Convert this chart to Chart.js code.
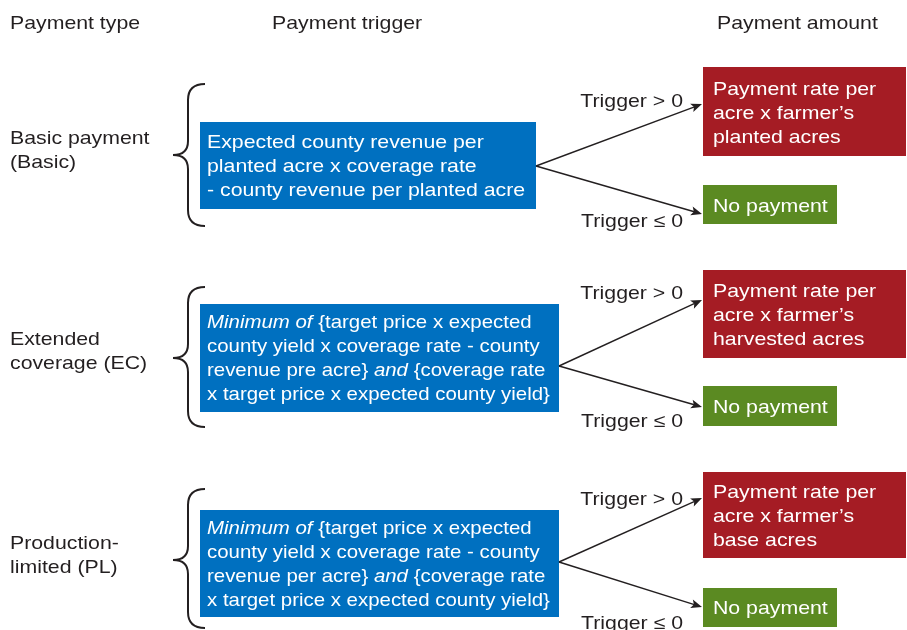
<!DOCTYPE html>
<html>
<head>
<meta charset="utf-8">
<script src="https://cdn.jsdelivr.net/npm/chart.js@4.4.1/dist/chart.umd.min.js"></script>
<style>
  html, body { margin: 0; padding: 0; background: #fff; }
  canvas { display: block; }
</style>
</head>
<body>
<canvas id="diagram" width="907" height="630"></canvas>
<script>
// --- diagram content ---
const headers = ["Payment type", "Payment trigger", "Payment amount"];
const paymentTypes = [
  ["Basic payment", "(Basic)"],
  ["Extended", "coverage (EC)"],
  ["Production-", "limited (PL)"]
];
// *...* marks italic runs
const triggerFormulas = [
  ["Expected county revenue per", "planted acre x coverage rate", "- county revenue per planted acre"],
  ["*Minimum of* {target price x expected", "county yield x coverage rate - county", "revenue pre acre} *and* {coverage rate", "x target price x expected county yield}"],
  ["*Minimum of* {target price x expected", "county yield x coverage rate - county", "revenue per acre} *and* {coverage rate", "x target price x expected county yield}"]
];
const triggerLabels = ["Trigger > 0", "Trigger \u2264 0"];
const paymentAmounts = [
  ["Payment rate per", "acre x farmer\u2019s", "planted acres"],
  ["Payment rate per", "acre x farmer\u2019s", "harvested acres"],
  ["Payment rate per", "acre x farmer\u2019s", "base acres"]
];
const noPayment = "No payment";

// --- layout (pixel units on the hidden 907x630 axes) ---
const headerX = [10, 272, 717];
const headerY = 28.5;
const typeX = 10;
const braceX = { tip: 173, spine: 188, end: 205 };
const formulaLeft = 200;
const amountX = [703, 906];
const noneX = [703, 837];
const textPad = 8;
const arrowEndX = 702;
const labelRightX = 683;
const lineGap = 24;
const rows = [
  { typeY: 144, brace: [84, 155, 226], formula: [122, 209, 148, 536], fork: 166, squeeze: 1,
    pay: [67, 156, 95], none: [185, 224, 212], up: [107, 104], down: [227, 214] },
  { typeY: 345, brace: [287, 358, 427], formula: [304, 412, 328, 559], fork: 366, squeeze: 0.96,
    pay: [270, 358, 297], none: [386, 426, 413], up: [299, 300], down: [427, 407] },
  { typeY: 549, brace: [489, 560, 628], formula: [510, 617, 534, 559], fork: 562, squeeze: 0.96,
    pay: [472, 558, 498], none: [588, 627, 614], up: [505, 498], down: [629, 607] }
];

const colors = { text: "#231f20", blue: "#0070c0", red: "#a51c24", green: "#5b8a22", white: "#ffffff" };
const fontFamily = '"Liberation Sans", Arial, sans-serif';
const fontSize = 18.5;
const stretch = 1.15;

function drawText(ctx, text, x, y, color, align, sx) {
  const k = stretch * (sx || 1);
  const parts = text.split("*");
  ctx.save();
  ctx.fillStyle = color;
  ctx.textBaseline = "alphabetic";
  ctx.textAlign = "left";
  let total = 0;
  parts.forEach((p, i) => {
    ctx.font = (i % 2 ? "italic " : "") + fontSize + "px " + fontFamily;
    total += ctx.measureText(p).width;
  });
  let startX = align === "right" ? x - total * k : x;
  ctx.translate(startX, y);
  ctx.scale(k, 1);
  let cx = 0;
  parts.forEach((p, i) => {
    ctx.font = (i % 2 ? "italic " : "") + fontSize + "px " + fontFamily;
    ctx.fillText(p, cx, 0);
    cx += ctx.measureText(p).width;
  });
  ctx.restore();
}

function drawArrow(ctx, x0, y0, x1, y1) {
  const ang = Math.atan2(y1 - y0, x1 - x0);
  const len = 11, half = 4.5;
  const bx = x1 - len * Math.cos(ang), by = y1 - len * Math.sin(ang);
  ctx.save();
  ctx.strokeStyle = colors.text;
  ctx.fillStyle = colors.text;
  ctx.lineWidth = 1.4;
  ctx.beginPath();
  ctx.moveTo(x0, y0);
  ctx.lineTo(bx + 3 * Math.cos(ang), by + 3 * Math.sin(ang));
  ctx.stroke();
  ctx.beginPath();
  ctx.moveTo(x1, y1);
  ctx.lineTo(bx - half * Math.sin(ang), by + half * Math.cos(ang));
  ctx.lineTo(bx + 2.5 * Math.cos(ang), by + 2.5 * Math.sin(ang));
  ctx.lineTo(bx + half * Math.sin(ang), by - half * Math.cos(ang));
  ctx.closePath();
  ctx.fill();
  ctx.restore();
}

function drawBrace(ctx, X, Y, top, mid, bottom) {
  const tip = X(braceX.tip), sp = X(braceX.spine), end = X(braceX.end);
  const t = Y(top), m = Y(mid), b = Y(bottom);
  ctx.save();
  ctx.strokeStyle = colors.text;
  ctx.lineWidth = 2;
  ctx.beginPath();
  ctx.moveTo(end, t);
  ctx.quadraticCurveTo(sp, t, sp, t + 16);
  ctx.lineTo(sp, m - 14);
  ctx.quadraticCurveTo(sp, m, tip, m);
  ctx.quadraticCurveTo(sp, m, sp, m + 14);
  ctx.lineTo(sp, b - 16);
  ctx.quadraticCurveTo(sp, b, end, b);
  ctx.stroke();
  ctx.restore();
}

const diagramPlugin = {
  id: "paymentDiagram",
  afterDraw(chart) {
    const ctx = chart.ctx;
    const xs = chart.scales.x, ys = chart.scales.y;
    const X = v => xs.getPixelForValue(v);
    const Y = v => ys.getPixelForValue(v);

    headers.forEach((h, i) => drawText(ctx, h, X(headerX[i]), Y(headerY), colors.text));

    rows.forEach((r, i) => {
      paymentTypes[i].forEach((line, k) =>
        drawText(ctx, line, X(typeX), Y(r.typeY + k * lineGap), colors.text));

      drawBrace(ctx, X, Y, r.brace[0], r.brace[1], r.brace[2]);

      const fRight = r.formula[3];
      ctx.fillStyle = colors.blue;
      ctx.fillRect(X(formulaLeft), Y(r.formula[0]), X(fRight) - X(formulaLeft), Y(r.formula[1]) - Y(r.formula[0]));
      triggerFormulas[i].forEach((line, k) =>
        drawText(ctx, line, X(formulaLeft + textPad - 1), Y(r.formula[2] + k * lineGap), colors.white, "left", r.squeeze));

      ctx.fillStyle = colors.red;
      ctx.fillRect(X(amountX[0]), Y(r.pay[0]), X(amountX[1]) - X(amountX[0]), Y(r.pay[1]) - Y(r.pay[0]));
      paymentAmounts[i].forEach((line, k) =>
        drawText(ctx, line, X(amountX[0] + textPad + 2), Y(r.pay[2] + k * lineGap), colors.white));

      ctx.fillStyle = colors.green;
      ctx.fillRect(X(noneX[0]), Y(r.none[0]), X(noneX[1]) - X(noneX[0]), Y(r.none[1]) - Y(r.none[0]));
      drawText(ctx, noPayment, X(noneX[0] + textPad + 2), Y(r.none[2]), colors.white);

      drawArrow(ctx, X(fRight), Y(r.fork), X(arrowEndX), Y(r.up[1]));
      drawArrow(ctx, X(fRight), Y(r.fork), X(arrowEndX), Y(r.down[1]));
      drawText(ctx, triggerLabels[0], X(labelRightX), Y(r.up[0]), colors.text, "right");
      drawText(ctx, triggerLabels[1], X(labelRightX), Y(r.down[0]), colors.text, "right");
    });
  }
};

new Chart(document.getElementById("diagram"), {
  type: "scatter",
  data: { datasets: [{ data: [] }] },
  options: {
    responsive: false,
    animation: false,
    devicePixelRatio: 1,
    layout: { padding: 0 },
    plugins: { legend: { display: false }, tooltip: { enabled: false } },
    scales: {
      x: { type: "linear", min: 0, max: 907, display: false },
      y: { type: "linear", min: 0, max: 630, reverse: true, display: false }
    }
  },
  plugins: [diagramPlugin]
});
</script>
</body>
</html>
